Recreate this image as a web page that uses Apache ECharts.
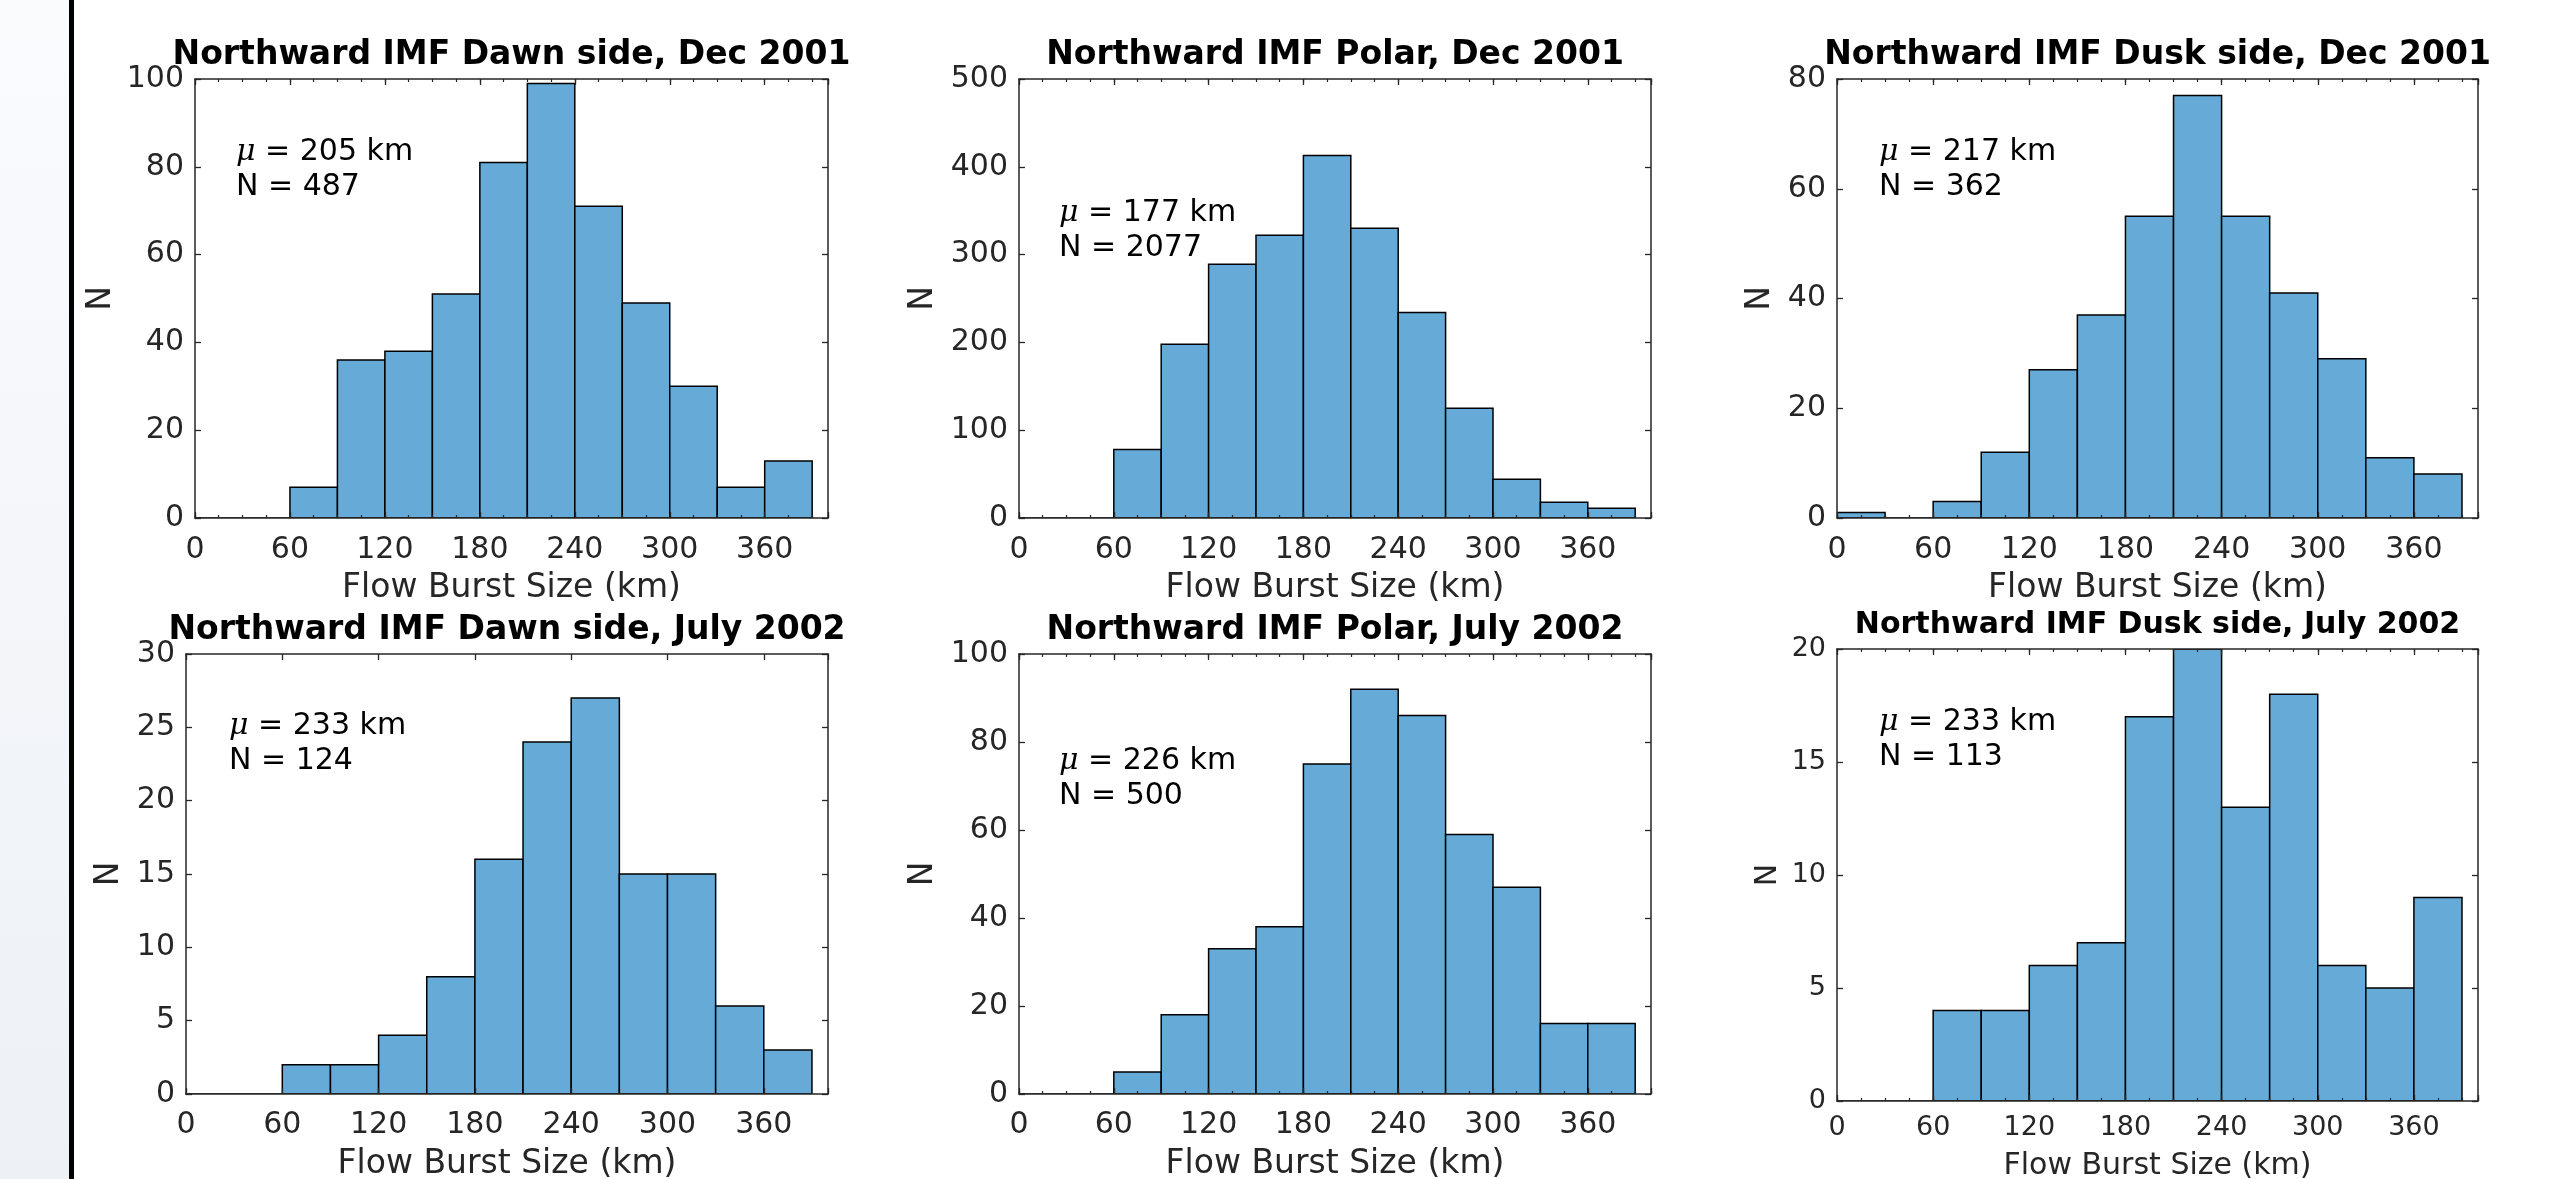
<!DOCTYPE html>
<html>
<head>
<meta charset="utf-8">
<title>Flow burst size histograms</title>
<script src="https://cdn.jsdelivr.net/npm/echarts@6/dist/echarts.min.js"></script>
<style>
  html, body { margin: 0; padding: 0; background: #fff; }
  #chart { width: 2551px; height: 1179px; }
</style>
</head>
<body>
<div id="chart"></div>
<script>
// bin edges (km), 30 km wide bins
var binEdges = [0, 30, 60, 90, 120, 150, 180, 210, 240, 270, 300, 330, 360, 390];
var xTicks = [0, 60, 120, 180, 240, 300, 360];

// counts per bin
var dawnDec2001  = [0, 0, 7, 36, 38, 51, 81, 99, 71, 49, 30, 7, 13];
var polarDec2001 = [0, 0, 78, 198, 289, 322, 413, 330, 234, 125, 44, 18, 11];
var duskDec2001  = [1, 0, 3, 12, 27, 37, 55, 77, 55, 41, 29, 11, 8];
var dawnJul2002  = [0, 0, 2, 2, 4, 8, 16, 24, 27, 15, 15, 6, 3];
var polarJul2002 = [0, 0, 5, 18, 33, 38, 75, 92, 86, 59, 47, 16, 16];
var duskJul2002  = [0, 0, 4, 4, 6, 7, 17, 20, 13, 18, 6, 5, 9];

var panelTitles = [
  'Northward IMF Dawn side, Dec 2001',
  'Northward IMF Polar, Dec 2001',
  'Northward IMF Dusk side, Dec 2001',
  'Northward IMF Dawn side, July 2002',
  'Northward IMF Polar, July 2002',
  'Northward IMF Dusk side, July 2002'
];
var meanSize = [205, 177, 217, 233, 226, 233];
var totalN = [487, 2077, 362, 124, 500, 113];
var yMax = [100, 500, 80, 30, 100, 20];
var yStep = [20, 100, 20, 5, 20, 5];
var xName = 'Flow Burst Size (km)';
var yName = 'N';

var allCounts = [dawnDec2001, polarDec2001, duskDec2001, dawnJul2002, polarJul2002, duskJul2002];

// panel layout (px)
var layout = [
  { left: 195,  top: 79,  width: 633, height: 439, titleY: 55,  xNameY: 588,  yNameOff: 94, noteX: 41, noteY: 152, tick: 30, head: 33, margin: 17, minor: true },
  { left: 1019, top: 79,  width: 632, height: 439, titleY: 55,  xNameY: 588,  yNameOff: 96, noteX: 40, noteY: 213, tick: 30, head: 33, margin: 17, minor: true },
  { left: 1837, top: 79,  width: 641, height: 439, titleY: 55,  xNameY: 588,  yNameOff: 77, noteX: 42, noteY: 152, tick: 30, head: 33, margin: 17, minor: true },
  { left: 186,  top: 654, width: 642, height: 440, titleY: 630, xNameY: 1164, yNameOff: 77, noteX: 43, noteY: 726, tick: 30, head: 33, margin: 16, minor: false },
  { left: 1019, top: 654, width: 632, height: 440, titleY: 630, xNameY: 1164, yNameOff: 96, noteX: 40, noteY: 761, tick: 30, head: 33, margin: 16, minor: true },
  { left: 1837, top: 649, width: 641, height: 452, titleY: 625, xNameY: 1166, yNameOff: 69, noteX: 42, noteY: 722, tick: 27, head: 30, margin: 13, minor: true }
];

var FONT = 'DejaVu Sans';
var axisColor = '#262626';
var barFill = '#66aad7';

function renderBin(params, api) {
  var lo = api.coord([api.value(0), 0]);
  var hi = api.coord([api.value(1), api.value(2)]);
  return {
    type: 'rect',
    shape: { x: lo[0], y: hi[1], width: hi[0] - lo[0], height: lo[1] - hi[1] },
    style: { fill: barFill, stroke: '#000', lineWidth: 1.5 }
  };
}

var grids = [], xAxes = [], yAxes = [], series = [], graphics = [];

// left strip + dark rule
graphics.push({
  type: 'rect', left: 0, top: 0, silent: true,
  shape: { width: 69, height: 1179 },
  style: { fill: { type: 'linear', x: 0, y: 0, x2: 0, y2: 1,
    colorStops: [{ offset: 0, color: '#fafbfd' }, { offset: 1, color: '#edf1f6' }] } }
});
graphics.push({
  type: 'rect', left: 69, top: 0, silent: true,
  shape: { width: 5, height: 1179 },
  style: { fill: '#000' }
});

layout.forEach(function (p, i) {
  grids.push({ left: p.left, top: p.top, width: p.width, height: p.height, containLabel: false });

  var xBase = {
    type: 'value', gridIndex: i, min: 0, max: 400, splitLine: { show: false }, z: 5
  };
  // bottom, major ticks with labels
  xAxes.push(Object.assign({}, xBase, {
    position: 'bottom', interval: 60,
    axisLine: { show: true, onZero: false, lineStyle: { color: axisColor, width: 1.5 } },
    axisTick: { show: true, inside: true, length: 6, lineStyle: { color: axisColor, width: 1.3 } },
    axisLabel: {
      show: true, margin: p.margin, color: axisColor, fontFamily: FONT, fontSize: p.tick,
      formatter: function (v) { return xTicks.indexOf(v) >= 0 ? String(v) : ''; }
    }
  }));
  // top, major ticks
  xAxes.push(Object.assign({}, xBase, {
    position: 'top', interval: 60,
    axisLine: { show: true, onZero: false, lineStyle: { color: axisColor, width: 1.5 } },
    axisTick: { show: true, inside: true, length: 6, lineStyle: { color: axisColor, width: 1.3 } },
    axisLabel: { show: false }
  }));
  if (p.minor) {
    ['bottom', 'top'].forEach(function (pos) {
      xAxes.push(Object.assign({}, xBase, {
        position: pos, interval: 15,
        axisLine: { show: false, onZero: false },
        axisTick: { show: true, inside: true, length: 3, lineStyle: { color: axisColor, width: 1.2 } },
        axisLabel: { show: false }
      }));
    });
  }

  var yBase = {
    type: 'value', gridIndex: i, min: 0, max: yMax[i], interval: yStep[i],
    splitLine: { show: false }, z: 5,
    axisLine: { show: true, onZero: false, lineStyle: { color: axisColor, width: 1.5 } },
    axisTick: { show: true, inside: true, length: 6, lineStyle: { color: axisColor, width: 1.3 } }
  };
  yAxes.push(Object.assign({}, yBase, {
    position: 'left',
    axisLabel: { show: true, margin: 11, color: axisColor, fontFamily: FONT, fontSize: p.tick }
  }));
  yAxes.push(Object.assign({}, yBase, { position: 'right', axisLabel: { show: false } }));

  var counts = allCounts[i];
  var binData = counts.map(function (c, k) { return [binEdges[k], binEdges[k + 1], c]; });
  series.push({
    type: 'custom',
    xAxisIndex: xAxes.length - (p.minor ? 4 : 2),
    yAxisIndex: yAxes.length - 2,
    renderItem: renderBin,
    encode: { x: [0, 1], y: 2 },
    clip: true,
    silent: true,
    z: 2,
    data: binData
  });

  var cx = p.left + p.width / 2;
  var cy = p.top + p.height / 2;

  graphics.push({
    type: 'text', x: cx, y: p.titleY, silent: true,
    style: { text: panelTitles[i], fill: '#000', font: 'bold ' + p.head + 'px "' + FONT + '"',
      textAlign: 'center', textVerticalAlign: 'middle' }
  });
  graphics.push({
    type: 'text', x: cx, y: p.xNameY, silent: true,
    style: { text: xName, fill: axisColor, font: p.head + 'px "' + FONT + '"',
      textAlign: 'center', textVerticalAlign: 'middle' }
  });
  graphics.push({
    type: 'text', x: p.left - p.yNameOff, y: cy, rotation: Math.PI / 2, silent: true,
    style: { text: yName, fill: axisColor, font: p.head + 'px "' + FONT + '"',
      textAlign: 'center', textVerticalAlign: 'middle' }
  });
  graphics.push({
    type: 'text', x: p.left + p.noteX, y: p.noteY, silent: true,
    style: {
      text: '{mu|\u03bc} = ' + meanSize[i] + ' km',
      fill: '#000', font: '30px "' + FONT + '"', textAlign: 'left', textVerticalAlign: 'middle',
      rich: { mu: { fontFamily: 'DejaVu Serif', fontStyle: 'italic', fontSize: 30, fill: '#000' } }
    }
  });
  graphics.push({
    type: 'text', x: p.left + p.noteX, y: p.noteY + 35, silent: true,
    style: { text: 'N = ' + totalN[i], fill: '#000', font: '30px "' + FONT + '"',
      textAlign: 'left', textVerticalAlign: 'middle' }
  });
});

var chart = echarts.init(document.getElementById('chart'), null, { renderer: 'canvas' });
chart.setOption({
  backgroundColor: '#fff',
  animation: false,
  grid: grids,
  xAxis: xAxes,
  yAxis: yAxes,
  series: series,
  graphic: graphics
});
</script>
</body>
</html>
